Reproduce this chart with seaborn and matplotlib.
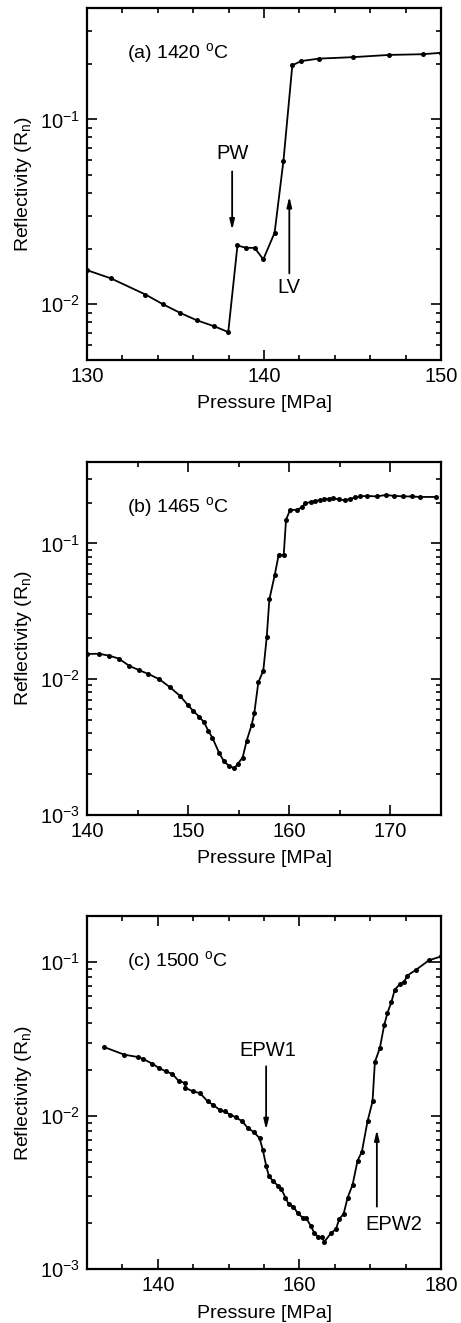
import numpy as np
import pandas as pd
import matplotlib
matplotlib.use("Agg")
import matplotlib.pyplot as plt
import seaborn as sns
from matplotlib.ticker import MultipleLocator, LogLocator, NullFormatter

# ---------------- data ----------------
p_a = [130.0, 131.36, 133.3, 134.3, 135.25, 136.2, 137.2, 137.98, 138.5, 139.0, 139.47,
       139.96, 140.6, 141.1, 141.6, 142.1, 143.1, 145.05, 147.06, 148.96, 150.0]
r_a = [0.0153, 0.0138, 0.0113, 0.0100, 0.0090, 0.0082, 0.0076, 0.00708, 0.0208, 0.0202, 0.0202,
       0.0175, 0.0244, 0.0599, 0.196, 0.2066, 0.213, 0.217, 0.223, 0.225, 0.229]

p_b = [140.0, 141.19, 142.2, 143.13, 144.19, 145.17, 146.06, 147.15, 148.2, 149.2, 149.96,
       150.5, 151.07, 151.57, 151.99, 152.39, 153.05, 153.55, 154.04, 154.57, 154.9, 155.39,
       155.79, 156.28, 156.54, 156.94, 157.43, 157.77, 158.03, 158.56, 158.95, 159.45, 159.68,
       160.08, 160.74, 161.23, 161.56, 162.1, 162.54, 163.04, 163.47, 163.93, 164.36, 164.89,
       165.51, 166.0, 166.5, 167.0, 167.65, 168.64, 169.56, 170.38, 171.27, 172.1, 172.92, 174.5]
r_b = [0.01535, 0.0154, 0.0149, 0.0142, 0.01253, 0.01164, 0.01094, 0.0100, 0.00873, 0.00754, 0.00647,
       0.00585, 0.00531, 0.00483, 0.00417, 0.00372, 0.00288, 0.00248, 0.0023, 0.00221, 0.00238, 0.00265,
       0.00353, 0.00461, 0.00562, 0.0095, 0.01155, 0.0204, 0.0387, 0.0585, 0.0824, 0.0824, 0.150,
       0.176, 0.177, 0.184, 0.197, 0.202, 0.2056, 0.208, 0.211, 0.213, 0.2155, 0.211,
       0.208, 0.213, 0.218, 0.222, 0.224, 0.222, 0.2275, 0.224, 0.222, 0.222, 0.220, 0.220]

p_c = [132.39, 135.26, 137.14, 137.84, 139.25, 140.14, 141.13, 142.07, 142.96, 143.85, 143.9,
       144.97, 145.96, 147.04, 147.79, 148.83, 149.44, 150.24, 150.99, 151.93, 152.72, 153.56,
       154.37, 154.83, 155.31, 155.68, 156.24, 156.95, 157.46, 158.03, 158.49, 159.15, 159.76,
       160.46, 160.94, 161.64, 162.11, 162.68, 163.19, 163.52, 164.46, 165.17, 165.63, 166.24,
       166.81, 167.51, 168.21, 168.83, 169.62, 170.33, 170.66, 171.37, 171.97, 172.44, 173.0,
       173.48, 174.23, 174.79, 175.26, 176.52, 178.31, 180.0]
r_c = [0.02805, 0.0250, 0.02415, 0.02355, 0.0218, 0.0205, 0.01946, 0.0187, 0.01683, 0.01633, 0.0152,
       0.0144, 0.01406, 0.0124, 0.0118, 0.01083, 0.01067, 0.01015, 0.0098, 0.00919, 0.00832, 0.00783,
       0.00715, 0.0060, 0.00472, 0.00406, 0.00377, 0.00351, 0.00332, 0.00293, 0.00265, 0.00256, 0.00232,
       0.00217, 0.00216, 0.00191, 0.00172, 0.00162, 0.00162, 0.00151, 0.00172, 0.00183, 0.00213, 0.00229,
       0.00293, 0.00355, 0.00509, 0.00585, 0.00919, 0.0124, 0.0224, 0.02767, 0.0388, 0.0468, 0.0552,
       0.0664, 0.0722, 0.0745, 0.0819, 0.0896, 0.103, 0.109]

panel_titles = ["(a) 1420 $^{\\mathrm{o}}$C", "(b) 1465 $^{\\mathrm{o}}$C", "(c) 1500 $^{\\mathrm{o}}$C"]
xlims = [(130, 150), (140, 175), (130, 180)]
ylims = [(0.005, 0.4), (0.001, 0.4), (0.001, 0.2)]
x_major = [10, 10, 20]
x_minor = [2, 5, 5]
xlabel = "Pressure [MPa]"
ylabel = "Reflectivity (R$_{\\mathrm{n}}$)"

# annotations: (label, text_xy, arrow_tail, arrow_tip)
ann_a = [("PW", (138.2, 0.065), (138.2, 0.0523), (138.2, 0.0252)),
         ("LV", (141.43, 0.0123), (141.43, 0.0147), (141.43, 0.0383))]
ann_c = [("EPW1", (155.5, 0.0265), (155.3, 0.021), (155.3, 0.0081)),
         ("EPW2", (173.4, 0.00195), (170.94, 0.00256), (170.94, 0.0081))]
annotations = [ann_a, [], ann_c]

# ---------------- style ----------------
sns.set_theme(style="ticks")
plt.rcParams["font.family"] = ["Liberation Sans", "DejaVu Sans"]
plt.rcParams["mathtext.fontset"] = "custom"
plt.rcParams["mathtext.rm"] = "Liberation Sans"
plt.rcParams["mathtext.it"] = "Liberation Sans:italic"
plt.rcParams["mathtext.default"] = "rm"
plt.rcParams["axes.unicode_minus"] = False
plt.rcParams["text.color"] = "black"
plt.rcParams["axes.labelcolor"] = "black"
plt.rcParams["xtick.color"] = "black"
plt.rcParams["ytick.color"] = "black"

fig = plt.figure(figsize=(4.61, 13.23), dpi=100)
W, H = 461.0, 1323.0
boxes = [(87, 8, 441, 360), (87, 461.7, 441, 815), (87, 916, 441, 1269.3)]

datasets = [(p_a, r_a), (p_b, r_b), (p_c, r_c)]

for i, (px, ry) in enumerate(datasets):
    x0, y0, x1, y1 = boxes[i]
    ax = fig.add_axes([x0 / W, 1 - y1 / H, (x1 - x0) / W, (y1 - y0) / H])
    df = pd.DataFrame({"P": px, "R": ry})
    sns.lineplot(data=df, x="P", y="R", ax=ax, sort=False, color="black", lw=1.3,
                 marker="o", markersize=3.6, markeredgewidth=0, markerfacecolor="black",
                 clip_on=True)
    ax.set_yscale("log")
    ax.set_xlim(*xlims[i])
    ax.set_ylim(*ylims[i])
    ax.xaxis.set_major_locator(MultipleLocator(x_major[i]))
    ax.xaxis.set_minor_locator(MultipleLocator(x_minor[i]))
    ax.yaxis.set_major_locator(LogLocator(base=10))
    ax.yaxis.set_minor_locator(LogLocator(base=10, subs=np.arange(2, 10)))
    ax.yaxis.set_minor_formatter(NullFormatter())
    ax.tick_params(which="both", direction="in", top=True, right=True, width=1.2,
                   labelsize=14.5, colors="black")
    ax.tick_params(which="major", length=7, pad=5)
    ax.tick_params(which="minor", length=3.8)
    for s in ax.spines.values():
        s.set_linewidth(1.6)
        s.set_color("black")
    ax.set_xlabel(xlabel, fontsize=14)
    ax.set_ylabel(ylabel, fontsize=14)
    ax.xaxis.set_label_coords(0.5, -0.10)
    ax.yaxis.set_label_coords(-0.15, 0.5)
    ax.text(0.112, 0.873, panel_titles[i], transform=ax.transAxes, fontsize=14,
            ha="left", va="center")
    for lab, txy, tail, tip in annotations[i]:
        ax.annotate("", xy=tip, xytext=tail,
                    arrowprops=dict(arrowstyle="-|>,head_length=0.5,head_width=0.12",
                                    color="black", lw=1.3, shrinkA=0, shrinkB=0))
        ax.text(txy[0], txy[1], lab, fontsize=14.5, ha="center", va="center")

fig.savefig("out.png", dpi=100)
